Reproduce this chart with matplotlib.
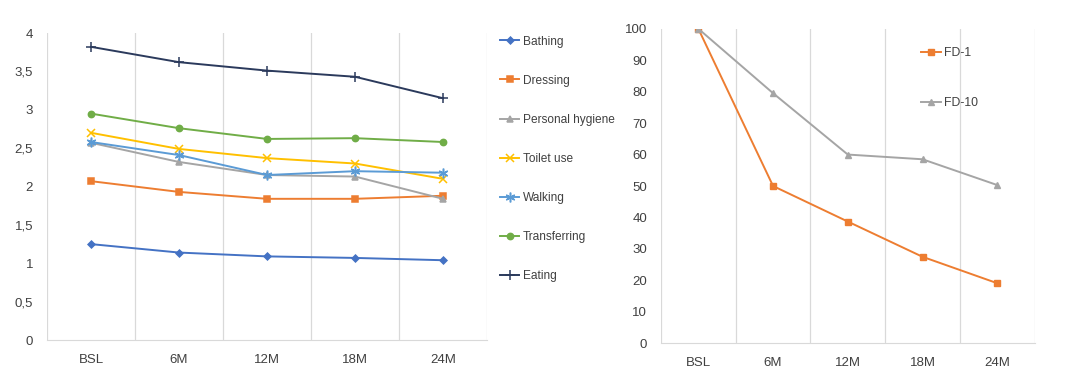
import numpy as np
import matplotlib.pyplot as plt
from matplotlib.ticker import FuncFormatter

plt.rcParams['font.family'] = ['Liberation Sans', 'DejaVu Sans']

# data
timepoints = ["BSL", "6M", "12M", "18M", "24M"]

bathing = [1.25, 1.14, 1.09, 1.07, 1.04]
dressing = [2.07, 1.93, 1.84, 1.84, 1.88]
personal_hygiene = [2.57, 2.32, 2.15, 2.13, 1.84]
toilet_use = [2.70, 2.49, 2.37, 2.30, 2.10]
walking = [2.58, 2.41, 2.15, 2.20, 2.18]
transferring = [2.95, 2.76, 2.62, 2.63, 2.58]
eating = [3.82, 3.62, 3.51, 3.43, 3.15]

fd_1 = [100, 50, 38.7, 27.5, 19.1]
fd_10 = [100, 79.5, 60, 58.5, 50.3]

adl_series = [
    ("Bathing", bathing, "#4472C4", "D", 3.5),
    ("Dressing", dressing, "#ED7D31", "s", 4.5),
    ("Personal hygiene", personal_hygiene, "#A5A5A5", "^", 4.5),
    ("Toilet use", toilet_use, "#FFC000", "x", 5.5),
    ("Walking", walking, "#5B9BD5", (6, 2, 0), 7),
    ("Transferring", transferring, "#70AD47", "o", 4.5),
    ("Eating", eating, "#2B3A5C", "+", 6.5),
]

GRID = "#D9D9D9"
TICK = "#404040"


def style_axes(ax):
    """Excel-like look: vertical grid between categories, no frame."""
    x = np.arange(len(timepoints))
    ax.set_xlim(-0.5, len(timepoints) - 0.5)
    ax.set_xticks(x)
    ax.set_xticklabels(timepoints)
    ax.set_xticks(np.arange(-0.5, len(timepoints)), minor=True)
    ax.grid(axis="x", which="minor", color=GRID, lw=0.9)
    ax.grid(axis="x", which="major", visible=False)
    for side in ["top", "right", "left"]:
        ax.spines[side].set_visible(False)
    ax.spines["bottom"].set_color(GRID)
    ax.tick_params(axis="both", which="both", length=0, labelsize=9.5, colors=TICK)
    ax.tick_params(axis="y", pad=10)
    ax.tick_params(axis="x", pad=10)


fig = plt.figure(figsize=(10.8, 3.86), dpi=100)

ax1 = fig.add_axes([0.0435, 0.119, 0.4075, 0.7955])
x = np.arange(len(timepoints))
for name, vals, color, marker, ms in adl_series:
    ax1.plot(x, vals, color=color, lw=1.4, marker=marker, markersize=ms,
             markeredgewidth=1.1, label=name)
ax1.set_ylim(0, 4)
ax1.set_yticks(np.arange(0, 4.01, 0.5))
ax1.yaxis.set_major_formatter(FuncFormatter(lambda v, p: ("%g" % v).replace(".", ",")))
style_axes(ax1)
ax1.legend(loc="upper left", bbox_to_anchor=(0.463, 0.908), bbox_transform=fig.transFigure,
           frameon=False, fontsize=8.6, labelspacing=2.27, handlelength=1.6,
           handletextpad=0.3, borderaxespad=0, borderpad=0, labelcolor=TICK)

ax2 = fig.add_axes([0.612, 0.1106, 0.346, 0.815])
ax2.plot(x, fd_1, color="#ED7D31", lw=1.4, marker="s", markersize=4.5, label="FD-1")
ax2.plot(x, fd_10, color="#A5A5A5", lw=1.4, marker="^", markersize=4.5, label="FD-10")
ax2.set_ylim(0, 100)
ax2.set_yticks(np.arange(0, 101, 10))
style_axes(ax2)
ax2.legend(loc="upper left", bbox_to_anchor=(0.853, 0.877), bbox_transform=fig.transFigure,
           frameon=False, fontsize=8.8, labelspacing=3.1, handlelength=1.6,
           handletextpad=0.3, borderaxespad=0, borderpad=0, labelcolor=TICK)

fig.savefig("out.png", dpi=100, facecolor="white")
